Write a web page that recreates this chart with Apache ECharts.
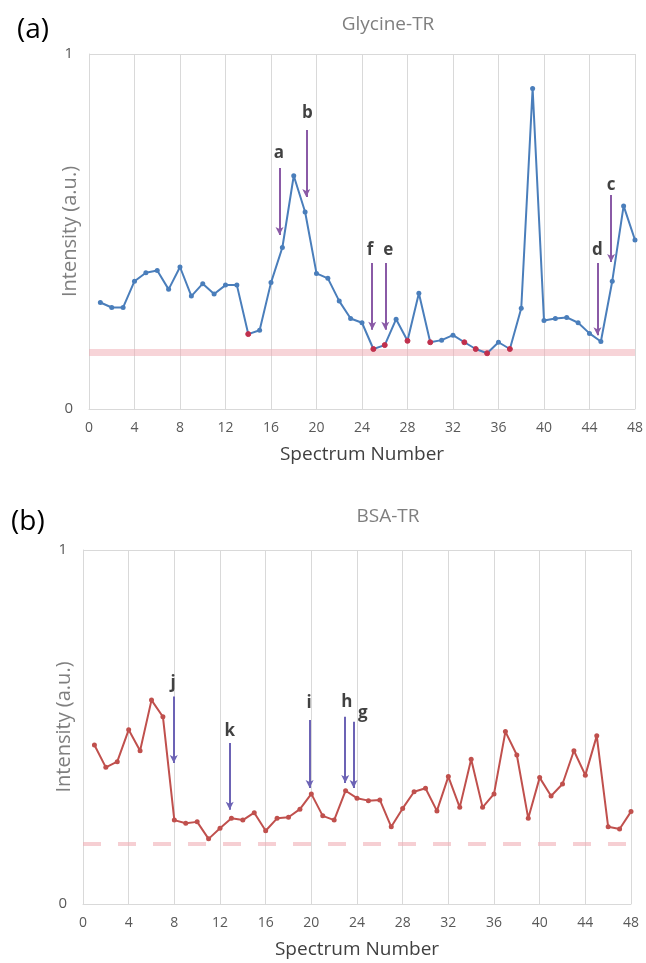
<!DOCTYPE html>
<html>
<head>
<meta charset="utf-8">
<script src="https://cdn.jsdelivr.net/npm/echarts@6/dist/echarts.min.js"></script>
<style>
  html, body { margin: 0; padding: 0; background: #fff; }
  #chart { width: 646px; height: 963px; }
</style>
</head>
<body>
<div id="chart"></div>
<script>
// spectrum numbers 1..48
const spectrum = [];
for (let i = 1; i <= 48; i++) spectrum.push(i);

// (a) Glycine-TR intensities
const glycine = [0.30, 0.286, 0.286, 0.36, 0.384, 0.39, 0.337, 0.40, 0.318, 0.353,
  0.324, 0.349, 0.349, 0.211, 0.222, 0.356, 0.455, 0.657, 0.555, 0.382,
  0.368, 0.304, 0.255, 0.243, 0.169, 0.18, 0.253, 0.192, 0.326, 0.188,
  0.194, 0.208, 0.188, 0.169, 0.157, 0.188, 0.169, 0.284, 0.903, 0.249,
  0.255, 0.258, 0.243, 0.213, 0.19, 0.36, 0.572, 0.476];
// spectra drawn with red markers in (a)
const glycineRed = [14, 25, 26, 28, 30, 33, 34, 35, 37];
const glycineThreshold = 0.161;

// (b) BSA-TR intensities
const bsa = [0.449, 0.386, 0.402, 0.492, 0.433, 0.576, 0.529, 0.237, 0.228, 0.232,
  0.184, 0.214, 0.242, 0.237, 0.258, 0.207, 0.242, 0.245, 0.268, 0.311,
  0.249, 0.237, 0.32, 0.299, 0.292, 0.294, 0.218, 0.27, 0.317, 0.327,
  0.263, 0.36, 0.273, 0.409, 0.273, 0.311, 0.487, 0.421, 0.242, 0.357,
  0.305, 0.339, 0.433, 0.364, 0.475, 0.218, 0.212, 0.261];
const bsaThreshold = 0.167;

// arrows: [label, x, yStart, yEnd, labelX, labelY]
const glycineArrows = [
  ['a', 16.75, 0.679, 0.49, 16.7, 0.72],
  ['b', 19.1, 0.786, 0.597, 19.2, 0.834],
  ['f', 24.9, 0.411, 0.223, 24.7, 0.448],
  ['e', 26.05, 0.411, 0.223, 26.3, 0.448],
  ['d', 44.7, 0.411, 0.208, 44.7, 0.448],
  ['c', 45.9, 0.603, 0.414, 45.9, 0.631]
];
const bsaArrows = [
  ['j', 7.95, 0.586, 0.398, 7.9, 0.624],
  ['k', 12.85, 0.455, 0.266, 12.85, 0.487],
  ['i', 19.85, 0.52, 0.328, 19.8, 0.568],
  ['h', 22.97, 0.529, 0.342, 23.1, 0.571],
  ['g', 23.7, 0.515, 0.328, 24.5, 0.54]
];

const xTicks = [0, 4, 8, 12, 16, 20, 24, 28, 32, 36, 40, 44, 48];

const font = 'Open Sans';
const chart = echarts.init(document.getElementById('chart'));

function xAxisFor(gi) {
  return {
    type: 'value', gridIndex: gi, min: 0, max: 48, interval: 4,
    name: 'Spectrum Number', nameLocation: 'middle', nameGap: 36,
    nameMoveOverlap: false,
    nameTextStyle: { color: '#404040', fontSize: 19, fontFamily: font },
    axisLine: { lineStyle: { color: '#d9d9d9' } },
    axisTick: { show: false },
    axisLabel: { color: '#595959', fontSize: 14, margin: 12, fontFamily: font,
      formatter: v => xTicks.indexOf(v) >= 0 ? v : '' },
    splitLine: { show: true, lineStyle: { color: '#d9d9d9', width: 1 } }
  };
}
function yAxisFor(gi) {
  return {
    type: 'value', gridIndex: gi, min: 0, max: 1, interval: 1,
    name: 'Intensity (a.u.)', nameLocation: 'middle', nameGap: 9,
    nameMoveOverlap: false,
    nameTextStyle: { color: '#7f7f7f', fontSize: 20, fontFamily: font },
    axisLine: { show: true, lineStyle: { color: '#d9d9d9' } },
    axisTick: { show: false },
    axisLabel: { color: '#595959', fontSize: 15, margin: 16, fontFamily: font },
    splitLine: { show: true, lineStyle: { color: '#d9d9d9' } }
  };
}

function arrowLines(arrows) {
  return arrows.map(a => [
    { coord: [a[1], a[2]] },
    { coord: [a[1], a[3]] }
  ]);
}
function arrowLabels(arrows) {
  return arrows.map(a => ({ value: [a[4], a[5]], name: a[0] }));
}

const option = {
  animation: false,
  title: [
    { text: 'Glycine-TR', left: 383, top: 10, textAlign: 'center',
      textStyle: { color: '#7f7f7f', fontSize: 19, fontWeight: 'normal', fontFamily: font } },
    { text: 'BSA-TR', left: 383, top: 502, textAlign: 'center',
      textStyle: { color: '#7f7f7f', fontSize: 19, fontWeight: 'normal', fontFamily: font } },
    { text: '(a)', left: 12, top: 11,
      textStyle: { color: '#000', fontSize: 28, fontWeight: 'normal', fontFamily: font } },
    { text: '(b)', left: 6, top: 503,
      textStyle: { color: '#000', fontSize: 28, fontWeight: 'normal', fontFamily: font } }
  ],
  grid: [
    { left: 89, top: 54, width: 548, height: 355 },
    { left: 83, top: 550, width: 548, height: 354 }
  ],
  xAxis: [xAxisFor(0), xAxisFor(1)],
  yAxis: [yAxisFor(0), yAxisFor(1)],
  series: [
    {
      name: 'Glycine-TR', type: 'line', xAxisIndex: 0, yAxisIndex: 0,
      data: glycine.map((v, i) => {
        const item = { value: [spectrum[i], v] };
        if (glycineRed.indexOf(spectrum[i]) >= 0) item.itemStyle = { color: '#c0304d', borderColor: '#c0304d' };
        return item;
      }),
      symbol: 'circle', symbolSize: 5,
      lineStyle: { color: '#4a7ebb', width: 2 },
      itemStyle: { color: '#4a7ebb' },
      z: 3,
      markLine: {
        silent: true, symbol: ['none', 'none'], label: { show: false },
        lineStyle: { color: 'rgba(240,170,178,0.5)', width: 7, type: 'solid' },
        data: [{ yAxis: glycineThreshold }],
        z: 1
      }
    },
    {
      name: 'glyArrows', type: 'line', xAxisIndex: 0, yAxisIndex: 0, data: [],
      markLine: {
        silent: true, symbol: ['none', 'arrow'], symbolSize: [6, 8],
        label: { show: false },
        lineStyle: { color: '#8a5aa6', width: 2, type: 'solid' },
        data: arrowLines(glycineArrows)
      }
    },
    {
      name: 'glyLabels', type: 'scatter', xAxisIndex: 0, yAxisIndex: 0,
      symbolSize: 0, data: arrowLabels(glycineArrows),
      label: { show: true, position: 'inside', formatter: p => p.name,
        color: '#111', fontSize: 17, fontWeight: 'bold', fontFamily: font }
    },
    {
      name: 'BSA-TR', type: 'line', xAxisIndex: 1, yAxisIndex: 1,
      data: bsa.map((v, i) => [spectrum[i], v]),
      symbol: 'circle', symbolSize: 5,
      lineStyle: { color: '#c0504d', width: 2 },
      itemStyle: { color: '#c0504d' },
      z: 3,
      markLine: {
        silent: true, symbol: ['none', 'none'], label: { show: false },
        lineStyle: { color: 'rgba(240,175,182,0.6)', width: 4, type: [18, 17] },
        data: [{ yAxis: bsaThreshold }],
        z: 1
      }
    },
    {
      name: 'bsaArrows', type: 'line', xAxisIndex: 1, yAxisIndex: 1, data: [],
      markLine: {
        silent: true, symbol: ['none', 'arrow'], symbolSize: [6, 8],
        label: { show: false },
        lineStyle: { color: '#6c63b5', width: 2, type: 'solid' },
        data: arrowLines(bsaArrows)
      }
    },
    {
      name: 'bsaLabels', type: 'scatter', xAxisIndex: 1, yAxisIndex: 1,
      symbolSize: 0, data: arrowLabels(bsaArrows),
      label: { show: true, position: 'inside', formatter: p => p.name,
        color: '#111', fontSize: 17, fontWeight: 'bold', fontFamily: font }
    }
  ]
};
chart.setOption(option);
</script>
</body>
</html>
